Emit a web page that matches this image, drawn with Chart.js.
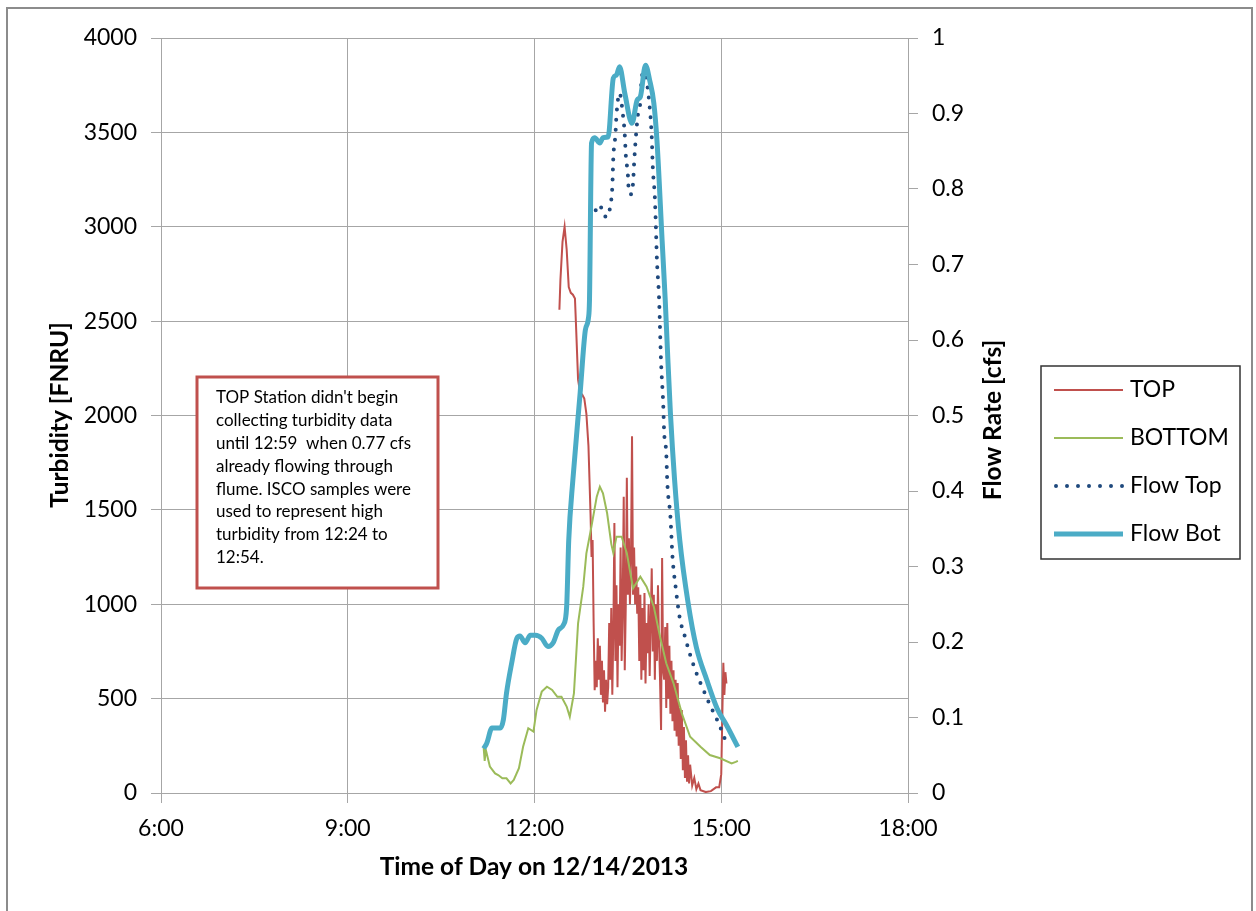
<!DOCTYPE html>
<html>
<head>
<meta charset="utf-8">
<script src="https://cdn.jsdelivr.net/npm/chart.js@4.4.1/dist/chart.umd.min.js"></script>
<style>
  body { margin: 0; background: #fff; }
  #wrap { width: 1256px; height: 911px; }
</style>
</head>
<body>
<div id="wrap"><canvas id="myChart"></canvas></div>
<script>
// tick labels
var timeTickLabels = ['6:00', '9:00', '12:00', '15:00', '18:00'];
var turbTickLabels = ['0', '500', '1000', '1500', '2000', '2500', '3000', '3500', '4000'];
var flowTickLabels = ['0', '0.1', '0.2', '0.3', '0.4', '0.5', '0.6', '0.7', '0.8', '0.9', '1'];

// TOP station turbidity [FNRU]
var topTimes = ['12:24','12:25','12:27','12:29','12:31','12:33','12:35','12:37','12:39','12:40','12:42','12:44','12:46','12:48','12:50','12:52','12:54','12:55','12:56','12:57','12:58','12:59',
  '13:00','13:01','13:02','13:03','13:04','13:05','13:06','13:07','13:08','13:09','13:10','13:11','13:12','13:13','13:14','13:15','13:16','13:17','13:18','13:19',
  '13:20','13:21','13:22','13:23','13:24','13:25','13:26','13:27','13:28','13:29','13:30','13:31','13:32','13:33','13:34','13:35','13:36','13:37','13:38','13:39',
  '13:40','13:41','13:42','13:43','13:44','13:45','13:46','13:47','13:48','13:49','13:50','13:51','13:52','13:53','13:54','13:55','13:56','13:57','13:58','13:59',
  '14:00','14:01','14:02','14:03','14:04','14:05','14:06','14:07','14:08','14:09','14:10','14:11','14:12','14:13','14:14','14:15','14:16','14:17','14:18','14:19',
  '14:20','14:21','14:22','14:23','14:24','14:25','14:26','14:27','14:28','14:29','14:30','14:32','14:34','14:36','14:38','14:40','14:45','14:50','14:55','14:58',
  '15:00','15:01','15:02','15:03','15:04','15:05'];
var topTurb = [2560,2720,2920,3000,2880,2680,2650,2640,2620,2480,2190,2120,2110,2090,2010,1840,1480,1250,1340,900,545,700,
  560,820,600,780,520,700,480,650,430,600,470,560,900,600,980,520,850,1430,700,1100,
  560,1000,780,1300,700,1000,1570,650,1000,1670,1050,1350,1000,1250,1890,1050,1300,1000,1200,950,
  1090,700,1050,600,980,650,1060,580,900,740,1000,620,900,1190,750,1050,600,1000,700,1100,
  800,600,334,1245,650,600,880,450,900,500,780,420,700,380,650,330,600,300,583,250,
  450,180,440,120,350,80,280,60,200,50,150,40,80,20,50,15,5,10,30,30,
  100,400,690,520,640,580];

// BOTTOM station turbidity [FNRU]
var bottomTimes = ['11:11','11:12','11:13','11:17','11:22','11:25','11:29','11:33','11:37','11:40','11:45','11:49','11:54','11:59','12:02','12:07','12:12','12:17','12:22','12:26',
  '12:31','12:34','12:38','12:42','12:47','12:50','12:55','13:00','13:03','13:06','13:10','13:14','13:16','13:19','13:24','13:29','13:35','13:42','13:48','13:55',
  '14:01','14:07','14:14','14:22','14:30','14:40','14:49','14:59','15:10','15:14','15:16'];
var bottomTurb = [240,170,230,140,104,95,78,78,51,69,131,245,343,325,440,537,563,546,510,510,
  458,404,528,899,1093,1270,1415,1570,1623,1588,1482,1320,1271,1358,1358,1270,1085,1146,1093,987,
  828,687,581,422,298,245,201,184,157,165,170];

// Flow at TOP flume [cfs]
var flowTopTimes = ['12:59','13:03','13:06','13:10','13:13','13:15','13:16','13:18','13:19','13:22','13:25','13:27','13:28','13:30','13:31','13:33','13:35','13:36','13:38','13:40',
  '13:42','13:43','13:45','13:48','13:51','13:53','13:54','13:56','13:57','13:58','14:00','14:02','14:04','14:05','14:07','14:08','14:11','14:13','14:16','14:20',
  '14:25','14:30','14:36','14:43','14:49','14:56','15:04'];
var flowTopCfs = [0.772,0.779,0.767,0.763,0.777,0.803,0.843,0.872,0.898,0.927,0.901,0.872,0.845,0.819,0.795,0.793,0.808,0.834,0.874,0.902,
  0.915,0.942,0.955,0.944,0.909,0.869,0.829,0.789,0.750,0.706,0.657,0.570,0.517,0.477,0.450,0.411,0.366,0.313,0.273,0.232,
  0.207,0.183,0.159,0.136,0.117,0.097,0.070];

// Flow at BOTTOM flume [cfs]
var flowBotTimes = ['11:11','11:14','11:19','11:27','11:30','11:33','11:38','11:43','11:46','11:51','11:56','12:01','12:07','12:13','12:18','12:23','12:28','12:31','12:33','12:37',
  '12:44','12:49','12:52','12:53','12:55','12:58','13:03','13:06','13:11','13:16','13:19','13:22','13:27','13:34','13:39','13:42','13:47','13:51','13:55','13:58',
  '14:03','14:06','14:08','14:11','14:15','14:20','14:28','14:36','14:46','14:56','15:05','15:16'];
var flowBotCfs = [0.059,0.066,0.086,0.086,0.097,0.132,0.172,0.205,0.208,0.199,0.209,0.209,0.205,0.194,0.199,0.216,0.223,0.247,0.335,0.415,
  0.530,0.613,0.629,0.653,0.861,0.868,0.861,0.868,0.869,0.947,0.951,0.962,0.927,0.887,0.918,0.922,0.964,0.944,0.914,0.865,
  0.732,0.653,0.591,0.503,0.415,0.335,0.252,0.193,0.150,0.112,0.090,0.061];

var noteLines = ["TOP Station didn't begin", 'collecting turbidity data', 'until 12:59  when 0.77 cfs', 'already flowing through',
  'flume. ISCO samples were', 'used to represent high', 'turbidity from 12:24 to', '12:54.'];

//call the canvas where the chart will appear
var ctx = document.getElementById('myChart').getContext('2d');

function toHours(t) {
  var p = t.split(':');
  return Number(p[0]) + Number(p[1]) / 60;
}
function pairs(times, vals) {
  return times.map(function (t, i) { return { x: toHours(t), y: vals[i] }; });
}

var gridGray = '#A6A6A6';
var tickFont = { family: 'Lato', size: 23 };

// background, frame, axis titles, legend and note box
var extras = {
  id: 'extras',
  beforeDraw: function (chart) {
    var c = chart.ctx;
    c.save();
    c.fillStyle = '#fff';
    c.fillRect(0, 0, chart.width, chart.height);
    c.strokeStyle = '#8C8C8C';
    c.lineWidth = 2;
    c.strokeRect(7, 8, 1245, 920);
    c.restore();
  },
  afterDraw: function (chart) {
    var c = chart.ctx;
    c.save();
    c.fillStyle = '#000';
    c.font = 'bold 24.5px Lato';
    c.textAlign = 'center';
    c.textBaseline = 'middle';
    c.fillText('Time of Day on 12/14/2013', 534, 867);
    c.save();
    c.translate(60, 415);
    c.rotate(-Math.PI / 2);
    c.fillText('Turbidity [FNRU]', 0, 0);
    c.restore();
    c.save();
    c.translate(993, 420);
    c.rotate(-Math.PI / 2);
    c.fillText('Flow Rate [cfs]', 0, 0);
    c.restore();

    // note box
    c.fillStyle = '#fff';
    c.fillRect(197, 377, 241, 211);
    c.strokeStyle = '#C0504D';
    c.lineWidth = 3;
    c.strokeRect(197, 377, 241, 211);
    c.fillStyle = '#000';
    c.font = '17px Lato';
    c.textAlign = 'left';
    noteLines.forEach(function (line, i) {
      c.fillText(line, 216, 398 + i * 22.8);
    });

    // legend
    c.fillStyle = '#fff';
    c.fillRect(1041, 366, 199, 193);
    c.strokeStyle = '#333';
    c.lineWidth = 1.5;
    c.strokeRect(1041, 366, 199, 193);
    c.font = '23px Lato';
    chart.data.datasets.forEach(function (ds, i) {
      var y = 390 + i * 48;
      c.beginPath();
      c.strokeStyle = ds.borderColor;
      c.lineWidth = ds.borderWidth;
      c.lineCap = ds.borderDash ? 'round' : 'butt';
      c.setLineDash(ds.borderDash ? [0, 11] : []);
      c.moveTo(ds.borderDash ? 1056 : 1054, y);
      c.lineTo(1123, y);
      c.stroke();
      c.setLineDash([]);
      c.fillStyle = '#000';
      c.fillText(ds.label, 1130, y);
    });
    c.restore();
  }
};

var myChart = new Chart(ctx, {
  type: 'line',
  data: {
    datasets: [{
      label: 'TOP',
      data: pairs(topTimes, topTurb),
      borderColor: '#C0504D',
      borderWidth: 2,
      yAxisID: 'y',
      order: 3
    }, {
      label: 'BOTTOM',
      data: pairs(bottomTimes, bottomTurb),
      borderColor: '#9BBB59',
      borderWidth: 2,
      yAxisID: 'y',
      order: 2
    }, {
      label: 'Flow Top',
      data: pairs(flowTopTimes, flowTopCfs),
      borderColor: '#1F497D',
      borderWidth: 4,
      borderDash: [0, 10],
      borderCapStyle: 'round',
      cubicInterpolationMode: 'monotone',
      yAxisID: 'y2',
      order: 1
    }, {
      label: 'Flow Bot',
      data: pairs(flowBotTimes, flowBotCfs),
      borderColor: '#4BACC6',
      borderWidth: 5,
      borderJoinStyle: 'round',
      cubicInterpolationMode: 'monotone',
      yAxisID: 'y2',
      order: 0
    }]
  },
  options: {
    responsive: true,
    maintainAspectRatio: false,
    animation: false,
    elements: { point: { radius: 0 }, line: { tension: 0 } },
    layout: { padding: { top: 38, left: 0, right: 0, bottom: 0 } },
    plugins: {
      legend: { display: false },
      tooltip: { enabled: false }
    },
    scales: {
      x: {
        type: 'linear',
        min: 6,
        max: 18,
        ticks: {
          stepSize: 3,
          font: tickFont,
          color: '#000',
          padding: 12,
          maxRotation: 0,
          callback: function (v, i) { return timeTickLabels[i]; }
        },
        grid: { color: gridGray, tickLength: 10 },
        border: { color: gridGray },
        afterFit: function (s) { s.height = 118; }
      },
      y: {
        position: 'left',
        min: 0,
        max: 4000,
        ticks: {
          stepSize: 500,
          font: tickFont,
          color: '#000',
          padding: 14,
          callback: function (v, i) { return turbTickLabels[i]; }
        },
        grid: { color: gridGray, tickLength: 10 },
        border: { color: gridGray },
        afterFit: function (s) { s.width = 161; }
      },
      y2: {
        position: 'right',
        min: 0,
        max: 1,
        ticks: {
          stepSize: 0.1,
          font: tickFont,
          color: '#000',
          padding: 14,
          callback: function (v, i) { return flowTickLabels[i]; }
        },
        grid: { drawOnChartArea: false, color: gridGray, tickLength: 10 },
        border: { color: gridGray },
        afterFit: function (s) { s.width = 348; }
      }
    }
  },
  plugins: [extras]
});
</script>
</body>
</html>
